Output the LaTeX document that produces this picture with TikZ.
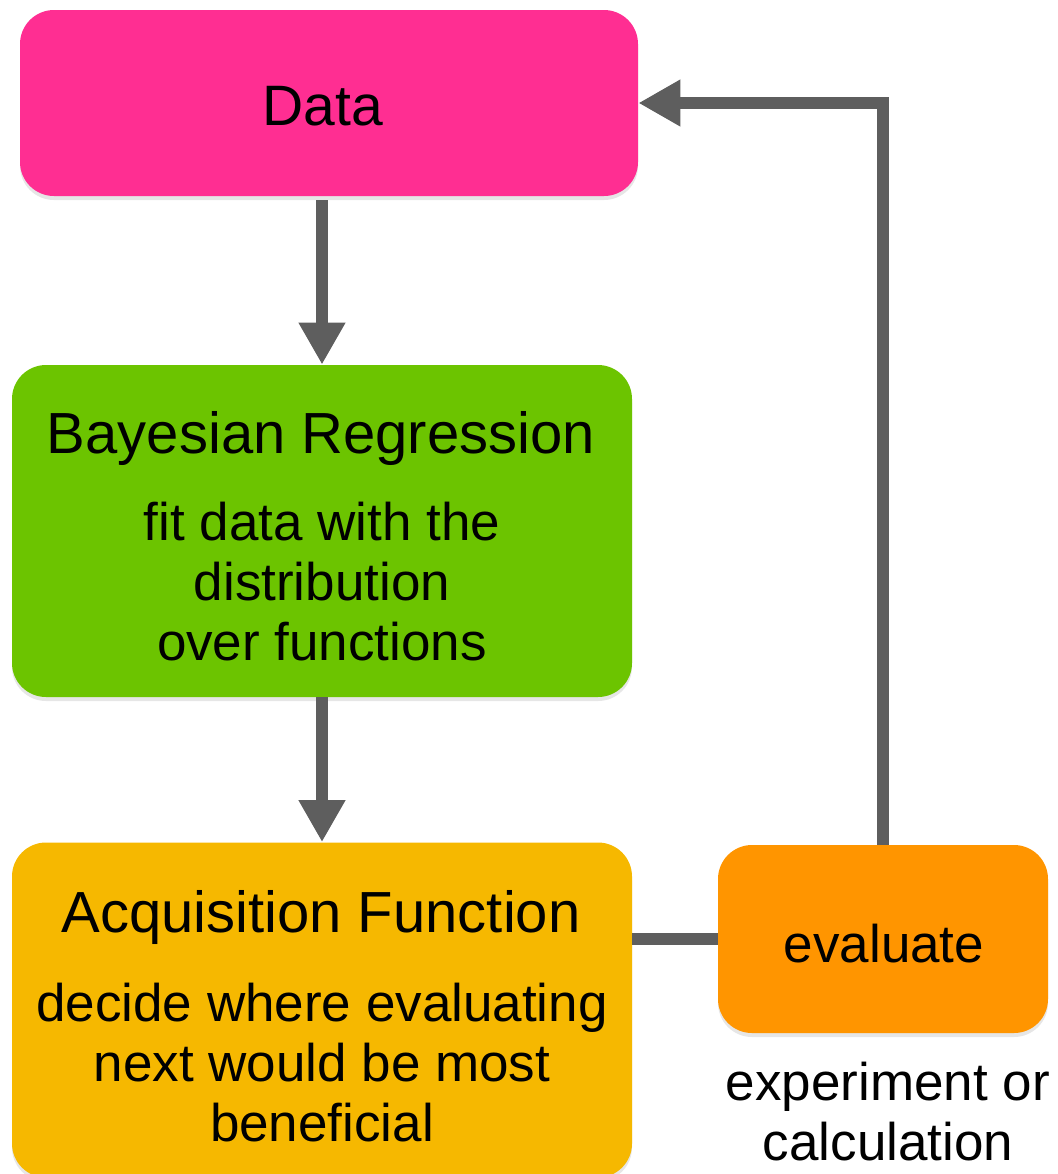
\documentclass[tikz,border=0pt]{standalone}
\usepackage{fontspec}
\setmainfont{Liberation Sans}
\usepackage{tikz}
\usetikzlibrary{
  arrows.meta,
  positioning,
  calc,
  shadows
}
\definecolor{boData}{HTML}{FF2E92}
\definecolor{boRegress}{HTML}{6CC400}
\definecolor{boAcquire}{HTML}{F6B800}
\definecolor{boEval}{HTML}{FF9500}
\definecolor{boArrow}{HTML}{5E5E5E}

\begin{document}
\begin{tikzpicture}[x=0.5pt, y=-0.5pt,
  box/.style={rounded corners=17pt, draw=none, inner sep=0pt,
    drop shadow={shadow xshift=0pt, shadow yshift=-2pt, opacity=0.2}},
  boxtitle/.style={font=\fontsize{29}{30}\selectfont, inner sep=0pt, anchor=base},
  boxbody/.style={font=\fontsize{26.5}{30}\selectfont, inner sep=0pt, align=center},
  flow/.style={draw=boArrow, line width=6pt},
  flowarrow/.style={flow, -{Triangle[length=21pt, width=22pt]}}]
  \useasboundingbox (0,0) rectangle (1058,1174);

  % boxes
  \node[box, fill=boData, minimum width=309pt, minimum height=93pt] (data) at (329,103) {};
  \node[box, fill=boRegress, minimum width=310pt, minimum height=166pt] (bayes) at (322,531) {};
  \node[box, fill=boAcquire, minimum width=310pt, minimum height=167.5pt] (acq) at (322,1010) {};
  \node[box, fill=boEval, minimum width=165pt, minimum height=94pt] (eval) at (883,939) {};

  % texts
  \node[boxtitle, font=\fontsize{28.5}{30}\selectfont] (dataTitle) at (323,125) {Data};
  \node[boxtitle] (bayesTitle) at (321,453) {Bayesian Regression};
  \node[boxbody] (bayesBody) at (322,582) {fit data with the\\distribution\\over functions};
  \node[boxtitle] (acqTitle) at (321,932) {Acquisition Function};
  \node[boxbody] (acqBody) at (322,1063) {decide where evaluating\\next would be most\\beneficial};
  \node[boxtitle, font=\fontsize{26.5}{30}\selectfont] (evalTitle) at (884,962) {evaluate};
  \node[boxbody] (evalNote) at (888,1112) {experiment or\\calculation};

  % connectors
  \draw[flowarrow] ([yshift=-2pt]data.south -| bayes.north) -- (bayes.north);
  \draw[flowarrow] (bayes.south) -- (acq.north);
  \draw[flow] (acq.east |- eval.west) -- (eval.west);
  \draw[flowarrow] (eval.north) |- (data.east);
\end{tikzpicture}
\end{document}
